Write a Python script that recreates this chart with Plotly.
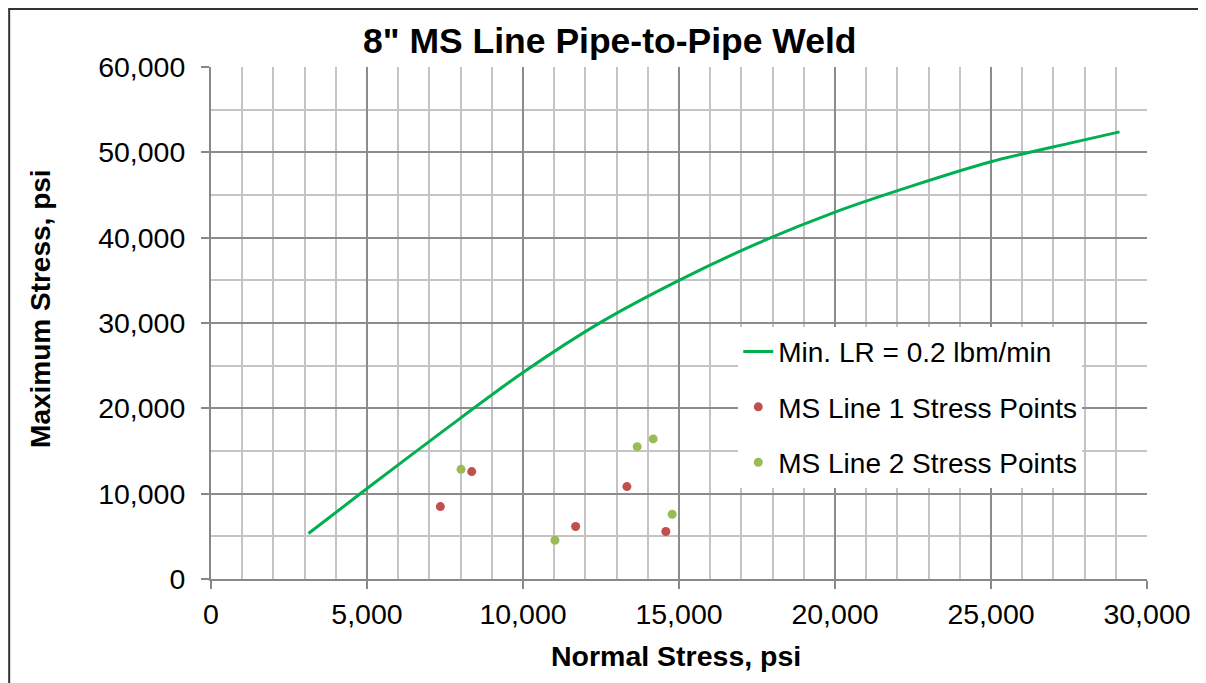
import plotly.graph_objects as go

# ---- data ----
curve_x = [3123, 5000, 7500, 10000, 12500, 15000, 17500, 20000, 22500, 25000, 27500, 29120]
curve_y = [5330, 10600, 17500, 24200, 30100, 35000, 39300, 43000, 46100, 48900, 51050, 52400]

line1_x = [8356, 7351, 11687, 13330, 14579]
line1_y = [12585, 8488, 6146, 10829, 5561]

line2_x = [8014, 11024, 13660, 14173, 14781]
line2_y = [12854, 4542, 15512, 16413, 7586]

x_ticks = [0, 5000, 10000, 15000, 20000, 25000, 30000]
y_ticks = [0, 10000, 20000, 30000, 40000, 50000, 60000]

# page is offset by the 8px body margin
OFF = 8
W, H = 1206 - OFF, 683 - OFF
L, T = 210.8 - OFF, 67 - OFF
R = W - (1146.7 - OFF)
B = H - (579.5 - OFF)
PW, PH = W - L - R, H - T - B

FONT = "Liberation Sans, Arial, sans-serif"

fig = go.Figure()
fig.add_trace(go.Scatter(x=curve_x, y=curve_y, mode="lines", name="Min. LR = 0.2 lbm/min",
                         line=dict(color="#00B050", width=3, shape="spline", smoothing=0.8),
                         legendgroup="a"))
fig.add_trace(go.Scatter(x=line1_x, y=line1_y, mode="markers", name="MS Line 1 Stress Points",
                         marker=dict(color="#C0504D", size=9), legendgroup="b"))
fig.add_trace(go.Scatter(x=line2_x, y=line2_y, mode="markers", name="MS Line 2 Stress Points",
                         marker=dict(color="#9BBB59", size=9), legendgroup="c"))

axis_common = dict(
    showline=True, linecolor="#888888", linewidth=2, mirror=False,
    showgrid=True, gridcolor="#8C8C8C", gridwidth=1.5,
    ticks="outside", ticklen=8, tickwidth=1.5, tickcolor="#888888",
    tickfont=dict(family=FONT, size=28.5, color="#000000"),
    zeroline=False,
)

fig.update_xaxes(range=[0, 30000], tickvals=x_ticks, ticktext=[f"{v:,}" for v in x_ticks],
                 minor=dict(dtick=1000, showgrid=True, gridcolor="#C4C4C4", gridwidth=1.5, ticks=""),
                 ticklabelstandoff=1, **axis_common)
fig.update_yaxes(range=[0, 60000], tickvals=y_ticks, ticktext=[f"{v:,}" for v in y_ticks],
                 minor=dict(dtick=5000, showgrid=True, gridcolor="#C4C4C4", gridwidth=1.5, ticks=""),
                 ticklabelstandoff=10, **axis_common)

def px_x(p):
    return (p - OFF - L) / PW

def px_y(p):
    return (H - B - (p - OFF)) / PH

fig.update_layout(
    width=W, height=H,
    margin=dict(l=L, r=R, t=T, b=B, autoexpand=False),
    paper_bgcolor="white", plot_bgcolor="white",
    font=dict(family=FONT, color="#000000"),
    showlegend=True,
    legend=dict(x=px_x(738), y=px_y(327), xanchor="left", yanchor="top",
                bgcolor="white", borderwidth=0,
                font=dict(family=FONT, size=28, color="#000000"),
                tracegroupgap=16, traceorder="grouped", itemwidth=30),
    annotations=[
        dict(text="<b>8\" MS Line Pipe-to-Pipe Weld</b>", xref="paper", yref="paper",
             x=px_x(610), y=px_y(41), xanchor="center", yanchor="middle", showarrow=False,
             font=dict(family=FONT, size=35.5, color="#000000")),
        dict(text="<b>Normal Stress, psi</b>", xref="paper", yref="paper",
             x=px_x(676), y=px_y(657), xanchor="center", yanchor="middle", showarrow=False,
             font=dict(family=FONT, size=28.5, color="#000000")),
        dict(text="<b>Maximum Stress, psi</b>", xref="paper", yref="paper",
             x=px_x(41), y=px_y(309), xanchor="center", yanchor="middle", showarrow=False,
             textangle=-90, font=dict(family=FONT, size=28, color="#000000")),
    ],
    shapes=[
        dict(type="line", xref="paper", yref="paper", x0=px_x(8), x1=px_x(1210), y0=px_y(9), y1=px_y(9),
             line=dict(color="#333333", width=2)),
        dict(type="line", xref="paper", yref="paper", x0=px_x(9), x1=px_x(9), y0=px_y(9), y1=px_y(690),
             line=dict(color="#333333", width=2)),
    ],
)

fig.write_html("out.html")
